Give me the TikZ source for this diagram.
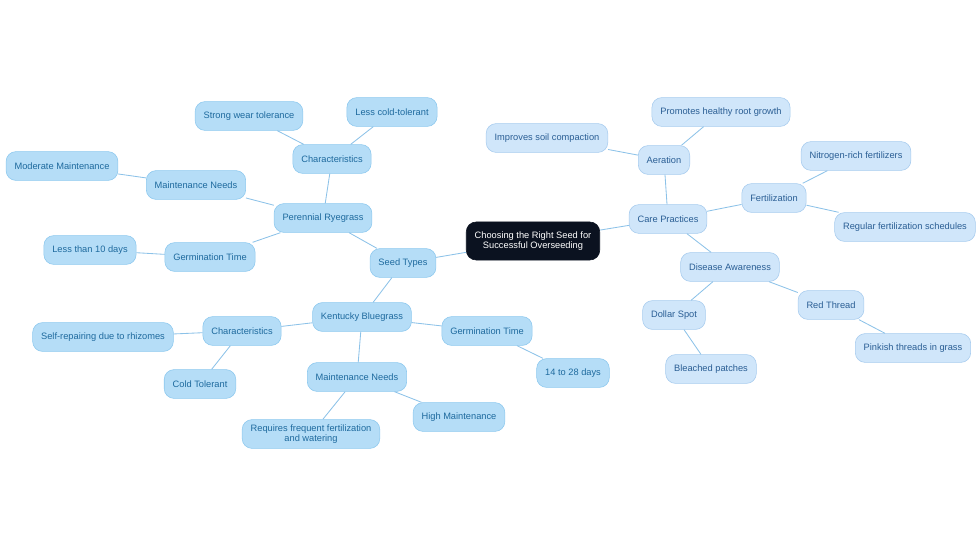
\documentclass[tikz,border=0pt]{standalone}
\usepackage{fontspec}
\setmainfont{Liberation Sans}
\usetikzlibrary{positioning}
\definecolor{rootfill}{HTML}{0B1220}
\definecolor{leftfill}{HTML}{B5DDF7}
\definecolor{leftline}{HTML}{8CC8EE}
\definecolor{lefttext}{HTML}{1E6A9E}
\definecolor{rightfill}{HTML}{D0E6FA}
\definecolor{rightline}{HTML}{A6CBEE}
\definecolor{righttext}{HTML}{2A5E94}
\definecolor{linkblue}{HTML}{8CC2E8}
\tikzset{
  leaf/.style={rounded corners=7pt,minimum height=0.72cm,inner xsep=6pt,align=center,
    font=\fontsize{6.6}{7.6}\selectfont},
  lnode/.style={leaf,fill=leftfill,draw=leftline,text=lefttext},
  rnode/.style={leaf,fill=rightfill,draw=rightline,text=righttext},
  rootnode/.style={leaf,fill=rootfill,draw=rootfill,text=white,minimum height=0.95cm},
  link/.style={draw=linkblue,line width=0.6pt}
}
\begin{document}
\begin{tikzpicture}[x=0.025cm,y=-0.025cm]
    \useasboundingbox (0,0) rectangle (980,553);
    % centre
    \node[rootnode] (root) at (533,241) {Choosing the Right Seed for\\Successful Overseeding};
    % seed types
    \node[lnode] (seed) at (403,263) {Seed Types};
    \node[lnode] (rye) at (323,218) {Perennial Ryegrass};
    \node[lnode] (ryechar) at (332,159) {Characteristics};
    \node[lnode] (wear) at (249,116) {Strong wear tolerance};
    \node[lnode] (cold) at (392,112) {Less cold-tolerant};
    \node[lnode] (ryemaint) at (196,185) {Maintenance Needs};
    \node[lnode] (moder) at (62,166) {Moderate Maintenance};
    \node[lnode] (ryegerm) at (210,257) {Germination Time};
    \node[lnode] (ten) at (90,250) {Less than 10 days};
    \node[lnode] (kbg) at (362,317) {Kentucky Bluegrass};
    \node[lnode] (kbgchar) at (242,331) {Characteristics};
    \node[lnode] (rhiz) at (103,337) {Self-repairing due to rhizomes};
    \node[lnode] (coldtol) at (200,384) {Cold Tolerant};
    \node[lnode] (kbgmaint) at (357,377) {Maintenance Needs};
    \node[lnode] (freq) at (311,434) {Requires frequent fertilization\\and watering};
    \node[lnode] (high) at (459,417) {High Maintenance};
    \node[lnode] (kbggerm) at (487,331) {Germination Time};
    \node[lnode] (days) at (573,373) {14 to 28 days};
    % care practices
    \node[rnode] (care) at (668,219) {Care Practices};
    \node[rnode] (aer) at (664,160) {Aeration};
    \node[rnode] (soil) at (547,138) {Improves soil compaction};
    \node[rnode] (root2) at (721,112) {Promotes healthy root growth};
    \node[rnode] (fert) at (774,198) {Fertilization};
    \node[rnode] (nitro) at (856,156) {Nitrogen-rich fertilizers};
    \node[rnode] (sched) at (905,227) {Regular fertilization schedules};
    \node[rnode] (dis) at (730,267) {Disease Awareness};
    \node[rnode] (dollar) at (674,315) {Dollar Spot};
    \node[rnode] (bleach) at (711,369) {Bleached patches};
    \node[rnode] (red) at (831,305) {Red Thread};
    \node[rnode] (pink) at (913,348) {Pinkish threads in grass};
    % connectors
    \foreach \a/\b in {root/seed,seed/rye,rye/ryechar,ryechar/wear,ryechar/cold,rye/ryemaint,ryemaint/moder,
      rye/ryegerm,ryegerm/ten,seed/kbg,kbg/kbgchar,kbgchar/rhiz,kbgchar/coldtol,kbg/kbgmaint,kbgmaint/freq,
      kbgmaint/high,kbg/kbggerm,kbggerm/days,root/care,care/aer,aer/soil,aer/root2,care/fert,fert/nitro,
      fert/sched,care/dis,dis/dollar,dollar/bleach,dis/red,red/pink}
      {\draw[link] (\a) -- (\b);}
  \end{tikzpicture}
\end{document}
